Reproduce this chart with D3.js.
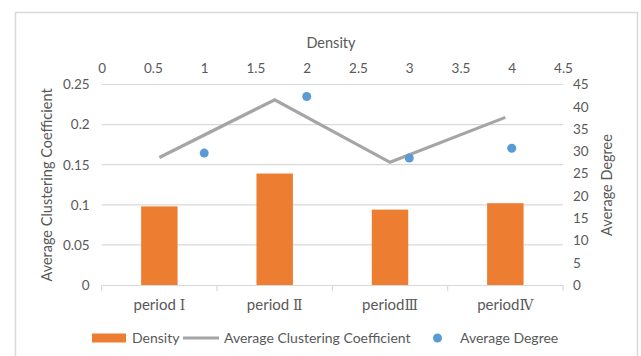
<!DOCTYPE html>
<html>
<head>
<meta charset="utf-8">
<script src="https://cdn.jsdelivr.net/npm/d3@7"></script>
<style>
  html, body { margin: 0; padding: 0; background: #fff; }
  svg { display: block; }
  text { font-family: Lato, "Open Sans", sans-serif; fill: #595959; }
</style>
</head>
<body>
<svg id="chart" width="641" height="356"></svg>
<script>
// Network metrics per period
const categories = ["period Ⅰ", "period Ⅱ", "periodⅢ", "periodⅣ"];
const density = [0.098, 0.139, 0.094, 0.102];
const clustering = [0.159, 0.231, 0.153, 0.209];
const degreeX = [1, 2, 3, 4];
const degree = [29.6, 42.3, 28.5, 30.7];

const leftTicks = [0, 0.05, 0.1, 0.15, 0.2, 0.25];
const rightTicks = [0, 5, 10, 15, 20, 25, 30, 35, 40, 45];
const topTicks = [0, 0.5, 1, 1.5, 2, 2.5, 3, 3.5, 4, 4.5];

const plot = { left: 101.7, right: 563, top: 84.5, bottom: 285 };

const svg = d3.select("#chart");

// chart frame
svg.append("rect")
  .attr("x", 15.5).attr("y", 12.5)
  .attr("width", 622).attr("height", 360)
  .attr("fill", "none").attr("stroke", "#d9d9d9").attr("stroke-width", 1.5);

const x = d3.scaleBand().domain(categories).range([plot.left, plot.right]).paddingInner(0.684).paddingOuter(0.342);
const xBand = d3.scaleBand().domain(categories).range([plot.left, plot.right]);
const xTop = d3.scaleLinear().domain([0, 4.5]).range([plot.left, plot.right]);
const yLeft = d3.scaleLinear().domain([0, 0.25]).range([plot.bottom, plot.top]);
const yRight = d3.scaleLinear().domain([0, 45]).range([plot.bottom, plot.top]);

// horizontal gridlines
svg.append("g")
  .selectAll("line").data(leftTicks.slice(1)).join("line")
  .attr("x1", plot.left).attr("x2", plot.right)
  .attr("y1", d => yLeft(d)).attr("y2", d => yLeft(d))
  .attr("stroke", "#d9d9d9").attr("stroke-width", 1.2);

// bars
svg.append("g")
  .selectAll("rect").data(density).join("rect")
  .attr("x", (d, i) => x(categories[i]))
  .attr("width", x.bandwidth())
  .attr("y", d => yLeft(d))
  .attr("height", d => yLeft(0) - yLeft(d))
  .attr("fill", "#ED7D31");

// bottom category axis
const gB = svg.append("g").attr("transform", `translate(0,${plot.bottom})`)
  .call(d3.axisBottom(xBand).tickSize(0).tickFormat(""));
gB.select(".domain").attr("stroke", "#d9d9d9").attr("stroke-width", 1.2);
const edges = categories.map(c => xBand(c)).concat([plot.right]);
gB.selectAll("line.edge").data(edges).join("line").attr("class", "edge")
  .attr("x1", d => d).attr("x2", d => d).attr("y1", 0).attr("y2", 6)
  .attr("stroke", "#d9d9d9").attr("stroke-width", 1.2);

svg.append("g").selectAll("text").data(categories).join("text")
  .attr("x", d => xBand(d) + xBand.bandwidth() / 2)
  .attr("y", 305).attr("dy", "0.35em")
  .attr("text-anchor", "middle").style("font-size", "15px")
  .each(function(d) {
    const m = d.match(/^(period\s?)(.*)$/);
    const t = d3.select(this);
    t.append("tspan").text(m[1]);
    t.append("tspan").style("font-family", "'DejaVu Serif', serif").style("font-size", "14px").text(m[2]);
  });

// left axis
const gL = svg.append("g").attr("transform", `translate(${plot.left},0)`)
  .call(d3.axisLeft(yLeft).tickValues(leftTicks).tickSize(0).tickPadding(12).tickFormat(d => String(+d.toFixed(2))));
gL.select(".domain").remove();
gL.selectAll("text").style("font-size", "13.5px").style("fill", "#595959");

// right axis
const gR = svg.append("g").attr("transform", `translate(${plot.right},0)`)
  .call(d3.axisRight(yRight).tickValues(rightTicks).tickSize(0).tickPadding(10));
gR.select(".domain").remove();
gR.selectAll("text").style("font-size", "13.5px").style("fill", "#595959");

// top density axis
const gT = svg.append("g").attr("transform", `translate(0,${plot.top})`)
  .call(d3.axisTop(xTop).tickValues(topTicks).tickSize(0).tickPadding(12).tickFormat(d => String(d)));
gT.select(".domain").remove();
gT.selectAll("text").style("font-size", "13.5px").style("fill", "#595959");

// clustering coefficient line
const line = d3.line()
  .x((d, i) => xBand(categories[i]) + xBand.bandwidth() / 2)
  .y(d => yLeft(d));
svg.append("path").datum(clustering)
  .attr("d", line).attr("fill", "none")
  .attr("stroke", "#A5A5A5").attr("stroke-width", 3.2).attr("stroke-linejoin", "miter");

// average degree points
svg.append("g").selectAll("circle").data(degree).join("circle")
  .attr("cx", (d, i) => xTop(degreeX[i]))
  .attr("cy", d => yRight(d))
  .attr("r", 4.5).attr("fill", "#5B9BD5");

// axis titles
svg.append("text").attr("x", 331).attr("y", 43).attr("dy", "0.35em")
  .attr("text-anchor", "middle").style("font-size", "14.5px").text("Density");
svg.append("text").attr("transform", "translate(47,185) rotate(-90)")
  .attr("dy", "0.35em").attr("text-anchor", "middle").style("font-size", "14.5px")
  .text("Average Clustering Coefficient");
svg.append("text").attr("transform", "translate(607,185) rotate(-90)")
  .attr("dy", "0.35em").attr("text-anchor", "middle").style("font-size", "14.5px")
  .text("Average Degree");

// legend
const lg = svg.append("g").attr("transform", "translate(0,338)");
lg.append("rect").attr("x", 92).attr("y", -4.5).attr("width", 34).attr("height", 9).attr("fill", "#ED7D31");
lg.append("text").attr("x", 132).attr("dy", "0.35em").style("font-size", "14px").text("Density");
lg.append("line").attr("x1", 183).attr("x2", 219).attr("y1", 0).attr("y2", 0)
  .attr("stroke", "#A5A5A5").attr("stroke-width", 3.2);
lg.append("text").attr("x", 224).attr("dy", "0.35em").style("font-size", "14px").text("Average Clustering Coefficient");
lg.append("circle").attr("cx", 437.5).attr("cy", 0).attr("r", 4.5).attr("fill", "#5B9BD5");
lg.append("text").attr("x", 460).attr("dy", "0.35em").style("font-size", "14px").text("Average Degree");
</script>
</body>
</html>
